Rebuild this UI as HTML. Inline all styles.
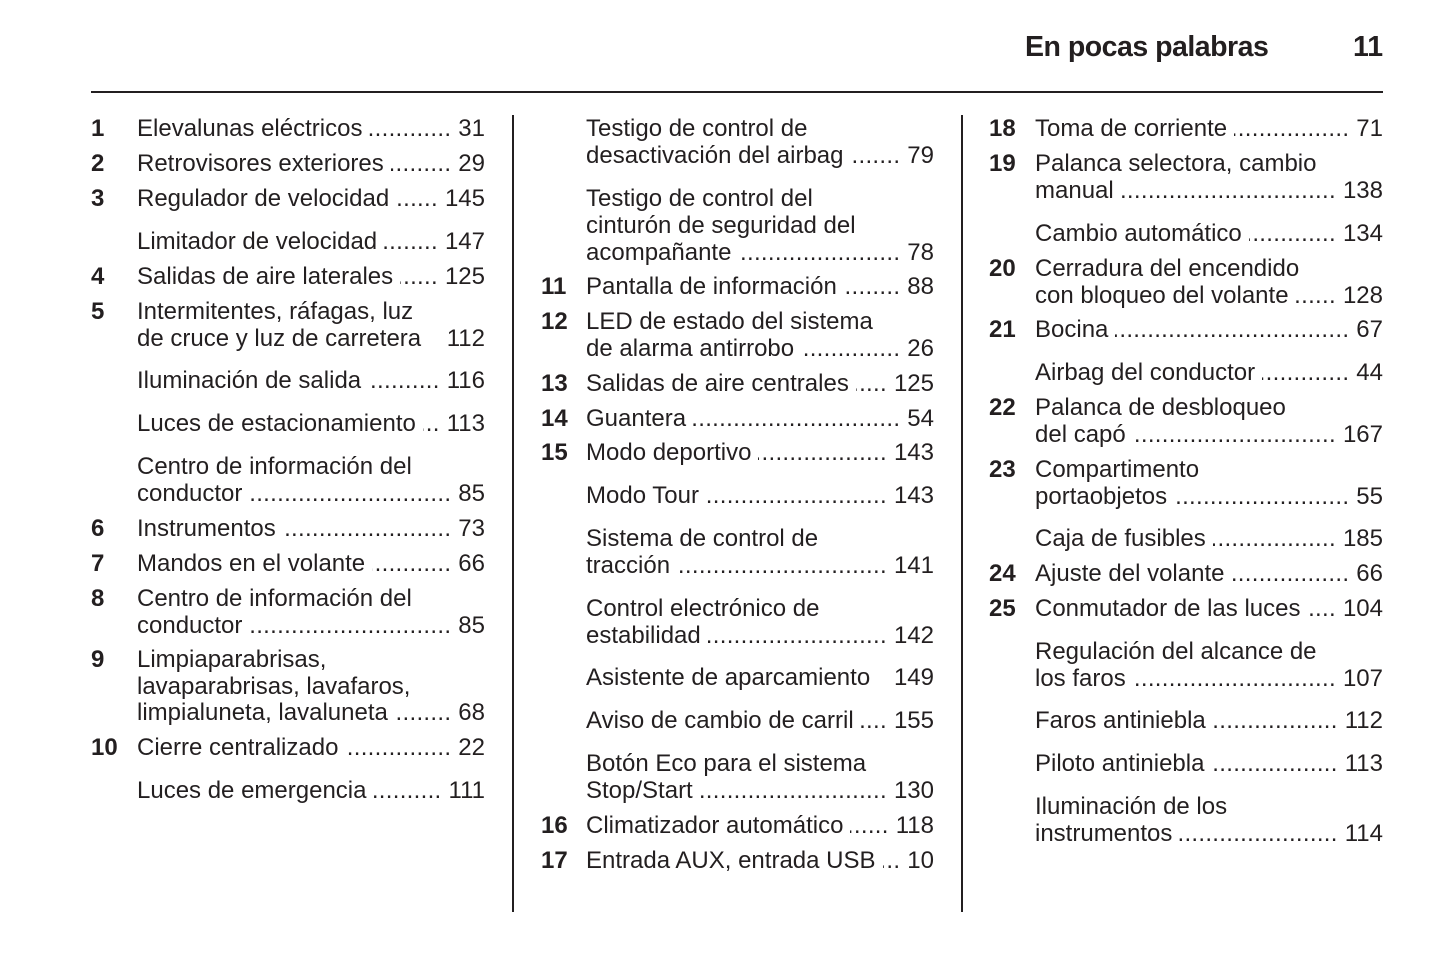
<!DOCTYPE html>
<html><head><meta charset="utf-8"><style>
body{margin:0;width:1445px;height:965px;background:#fff;position:relative;overflow:hidden;font-family:"Liberation Sans",Arial,sans-serif;color:#231f20}
.l{position:absolute;height:28px;line-height:28px;font-size:24px;width:348px;display:flex;white-space:nowrap}
.n{position:absolute;height:28px;line-height:28px;font-size:24px;font-weight:bold}
.d{flex:1;overflow:hidden;direction:rtl;margin:0 7px;letter-spacing:0.3px}
.h{position:absolute;font-size:28.5px;font-weight:bold;top:31px}
.v{position:absolute;width:2px;background:#231f20;top:115px;height:797px}
</style></head><body>
<div class="h" style="left:1025px;letter-spacing:-0.5px">En pocas palabras</div>
<div class="h" style="left:1353px">11</div>
<div style="position:absolute;left:91px;top:91px;width:1292px;height:2px;background:#231f20"></div>
<div class="v" style="left:512px"></div>
<div class="v" style="left:961px"></div>
<div id="c"></div>
<script>
var D=".".repeat(120);
var cols=[[91,137],[541,586],[989,1035]];
var data=[
[[1,"Elevalunas eléctricos","31",129],[2,"Retrovisores exteriores","29",164],[3,"Regulador de velocidad","145",199],[0,"Limitador de velocidad","147",242],[4,"Salidas de aire laterales","125",277],[5,"Intermitentes, ráfagas, luz",null,312],[0,"de cruce y luz de carretera","112",339,1],[0,"Iluminación de salida","116",381],[0,"Luces de estacionamiento","113",424],[0,"Centro de información del",null,467],[0,"conductor","85",494],[6,"Instrumentos","73",529],[7,"Mandos en el volante","66",564],[8,"Centro de información del",null,599],[0,"conductor","85",626],[9,"Limpiaparabrisas,",null,660],[0,"lavaparabrisas, lavafaros,",null,687],[0,"limpialuneta, lavaluneta","68",713],[10,"Cierre centralizado","22",748],[0,"Luces de emergencia","111",791]],
[[0,"Testigo de control de",null,129],[0,"desactivación del airbag","79",156],[0,"Testigo de control del",null,199],[0,"cinturón de seguridad del",null,226],[0,"acompañante","78",253],[11,"Pantalla de información","88",287],[12,"LED de estado del sistema",null,322],[0,"de alarma antirrobo","26",349],[13,"Salidas de aire centrales","125",384],[14,"Guantera","54",419],[15,"Modo deportivo","143",453],[0,"Modo Tour","143",496],[0,"Sistema de control de",null,539],[0,"tracción","141",566],[0,"Control electrónico de",null,609],[0,"estabilidad","142",636],[0,"Asistente de aparcamiento","149",678,1],[0,"Aviso de cambio de carril","155",721],[0,"Botón Eco para el sistema",null,764],[0,"Stop/Start","130",791],[16,"Climatizador automático","118",826],[17,"Entrada AUX, entrada USB","10",861]],
[[18,"Toma de corriente","71",129],[19,"Palanca selectora, cambio",null,164],[0,"manual","138",191],[0,"Cambio automático","134",234],[20,"Cerradura del encendido",null,269],[0,"con bloqueo del volante","128",296],[21,"Bocina","67",330],[0,"Airbag del conductor","44",373],[22,"Palanca de desbloqueo",null,408],[0,"del capó","167",435],[23,"Compartimento",null,470],[0,"portaobjetos","55",497],[0,"Caja de fusibles","185",539],[24,"Ajuste del volante","66",574],[25,"Conmutador de las luces","104",609],[0,"Regulación del alcance de",null,652],[0,"los faros","107",679],[0,"Faros antiniebla","112",721],[0,"Piloto antiniebla","113",764],[0,"Iluminación de los",null,807],[0,"instrumentos","114",834]]];
var h="";
data.forEach(function(col,i){var c=cols[i];col.forEach(function(e){var t=e[3]-14;
if(e[0])h+='<div class="n" style="left:'+c[0]+'px;top:'+t+'px">'+e[0]+'</div>';
h+='<div class="l" style="left:'+c[1]+'px;top:'+t+'px"><span>'+e[1]+'</span>';
if(e[2]!==null){h+='<span class="d">'+(e[4]?'':D)+'</span><span>'+e[2]+'</span>';}
h+='</div>';});});
document.getElementById("c").innerHTML=h;
</script>
</body></html>
